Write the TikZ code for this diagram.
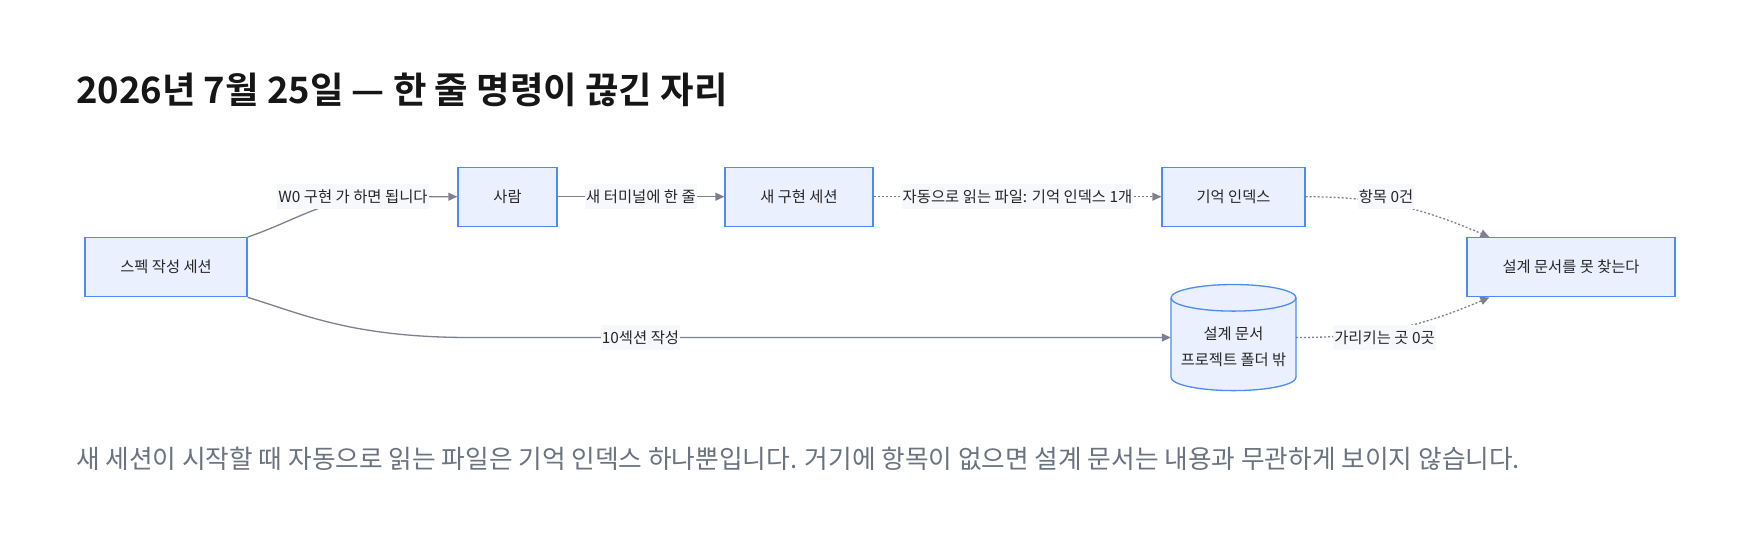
\documentclass[tikz,border=0pt]{standalone}
\usepackage{fontspec}
\setmainfont{Noto Sans CJK KR}[BoldFont={Noto Sans CJK KR Bold}]
\usetikzlibrary{arrows.meta,calc}
\definecolor{nodefill}{HTML}{EAF0FE}
\definecolor{nodeline}{HTML}{4C8BF5}
\definecolor{edgecol}{HTML}{7E8090}
\definecolor{lblfill}{HTML}{F7F8FB}
\definecolor{titlecol}{HTML}{161616}
\definecolor{capcol}{HTML}{6B7280}
\definecolor{txtcol}{HTML}{262626}
\begin{document}
\begin{tikzpicture}[x=1pt,y=-1pt,
 box/.style={draw=nodeline, fill=nodefill, line width=1.3pt, inner sep=0pt, font=\fontsize{15.3}{25}\selectfont, text=txtcol},
 edge/.style={draw=edgecol, line width=1.3pt, -{Triangle[length=9pt,width=8pt]}},
 dotedge/.style={edge, dash pattern=on 2pt off 2pt},
 lbl/.style={fill=lblfill, inner xsep=1pt, inner ysep=0pt, minimum height=25pt, font=\fontsize{15.4}{18}\selectfont, text=txtcol},
]
\fill[white] (0,0) rectangle (1760,542);
\useasboundingbox (0,0) rectangle (1760,542);

% title and caption
\node[anchor=base west, inner sep=0pt, font=\fontsize{36.4}{42}\selectfont\bfseries, text=titlecol] (title) at (76,103.7) {2026년 7월 25일 — 한 줄 명령이 끊긴 자리};
\node[anchor=base west, inner sep=0pt, font=\fontsize{25.7}{30}\selectfont, text=capcol] (caption) at (76,468) {새 세션이 시작할 때 자동으로 읽는 파일은 기억 인덱스 하나뿐입니다. 거기에 항목이 없으면 설계 문서는 내용과 무관하게 보이지 않습니다.};

% boxes
\node[box, minimum width=162pt, minimum height=59pt] (spec) at (166,267.2) {스펙 작성 세션};
\node[box, minimum width=99pt, minimum height=59pt] (person) at (507.5,196.7) {사람};
\node[box, minimum width=148pt, minimum height=59pt] (newsess) at (799,196.7) {새 구현 세션};
\node[box, minimum width=143pt, minimum height=59pt] (memidx) at (1233.5,196.7) {기억 인덱스};
\node[box, minimum width=208pt, minimum height=59pt] (notfound) at (1571,267.2) {설계 문서를 못 찾는다};

% cylinder
\fill[nodefill] (1171,297.8) -- (1171,377.3)
  arc[start angle=180,end angle=360,x radius=62.5pt,y radius=13.3pt]
  -- (1296,297.8)
  arc[start angle=0,end angle=180,x radius=62.5pt,y radius=13.3pt] -- cycle;
\draw[nodeline, line width=1.3pt] (1171,297.8) -- (1171,377.3)
  arc[start angle=180,end angle=360,x radius=62.5pt,y radius=13.3pt]
  -- (1296,297.8);
\draw[nodeline, line width=1.3pt] (1233.5,297.8) ellipse[x radius=62.5pt,y radius=13.3pt];
\node[inner sep=0pt, minimum width=125pt, minimum height=106pt] (cyl) at (1233.5,337.5) {};
\node[align=center, inner sep=0pt, font=\fontsize{15.3}{26}\selectfont, text=txtcol] (cyltext) at (1233.5,347) {설계 문서\\프로젝트 폴더 밖};

% edges
\draw[edge] (spec.north east) .. controls (295,221) and (328,196.7) .. (380,196.7)
  -- (person.west);
\node[lbl] (lblA) at (353,196.7) {W0 구현 가 하면 됩니다};

\draw[edge] (person.east) -- node[lbl] (lblB) {새 터미널에 한 줄} (newsess.west);

\draw[dotedge] (newsess.east) -- node[lbl] (lblC) {자동으로 읽는 파일: 기억 인덱스 1개} (memidx.west);

\draw[dotedge] (memidx.east) .. controls (1375,196.7) and (1420,207) .. ($(notfound.north west)+(23,0)$);
\node[lbl] (lblD) at (1386,196.7) {항목 0건};

\draw[edge] (spec.south east) .. controls (300,313) and (350,337.5) .. (470,337.5)
  -- (cyl.west);
\node[lbl] (lblE) at (640.5,337.5) {10섹션 작성};

\draw[dotedge] (cyl.east) .. controls (1375,337.5) and (1420,327) .. ($(notfound.south west)+(23,0)$);
\node[lbl] (lblF) at (1384.5,337.5) {가리키는 곳 0곳};
\end{tikzpicture}
\end{document}
